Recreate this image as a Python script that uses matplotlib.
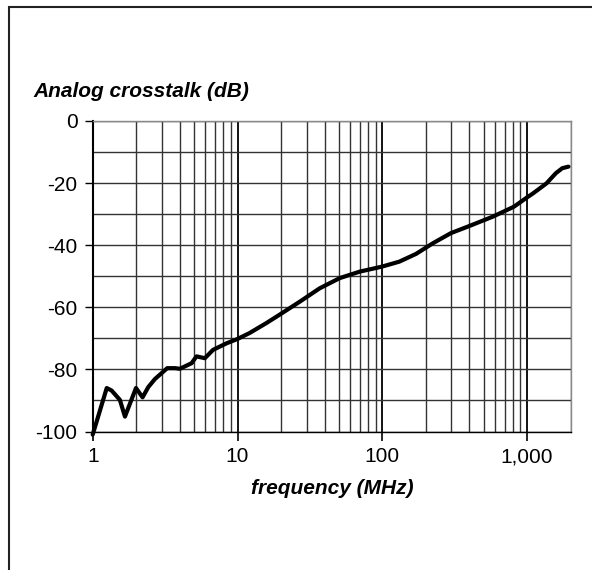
import matplotlib
matplotlib.use("Agg")
import matplotlib.pyplot as plt
from matplotlib.patches import Rectangle
from matplotlib.ticker import FixedLocator, NullFormatter, LogLocator

plt.rcParams['font.family'] = ['Liberation Sans', 'DejaVu Sans']

# Data
freq_mhz = [1, 1.25, 1.35, 1.54, 1.67, 1.99, 2.21, 2.42, 2.69, 2.91, 3.27, 3.7, 4.0,
            4.82, 5.21, 5.95, 6.78, 8.4, 10, 12.1, 15.8, 19.5, 26.9, 36.9, 50.8, 70,
            99.5, 131, 171, 223, 298, 400, 580, 811, 1000, 1100, 1360, 1580, 1750, 1930]
crosstalk_db = [-101, -86.0, -86.8, -89.8, -95.2, -86.0, -89.0, -85.7, -83.1, -81.7,
                -79.6, -79.6, -79.8, -78.0, -75.8, -76.4, -73.7, -71.6, -70.2, -68.3,
                -65.1, -62.4, -58.2, -53.9, -50.6, -48.5, -46.9, -45.3, -42.8, -39.4,
                -36.1, -33.8, -30.8, -27.6, -24.6, -23.3, -20.1, -16.8, -15.2, -14.7]

x_ticks = [1, 10, 100, 1000]
x_tick_labels = ["1", "10", "100", "1,000"]
y_ticks = [0, -20, -40, -60, -80, -100]
y_tick_labels = ["0", "-20", "-40", "-60", "-80", "-100"]

W, H = 592, 570
fig = plt.figure(figsize=(W / 100, H / 100), dpi=100)

# outer frame
fig.patches.append(Rectangle((9 / W, -0.05), 1.2, 1 - 6.5 / H + 0.05,
                             transform=fig.transFigure, fill=False,
                             edgecolor='#222222', linewidth=1.5, clip_on=False))

ax = fig.add_axes([92.7 / W, 1 - 431.5 / H, (570.7 - 92.7) / W, (431.5 - 121) / H])
ax.set_xscale('log')
ax.set_xlim(1, 2000)
ax.set_ylim(-100, 0)

ax.xaxis.set_major_locator(FixedLocator(x_ticks))
ax.set_xticklabels(x_tick_labels)
ax.xaxis.set_minor_locator(LogLocator(base=10, subs=range(2, 10), numticks=20))
ax.xaxis.set_minor_formatter(NullFormatter())
ax.set_yticks(y_ticks)
ax.set_yticklabels(y_tick_labels)
ax.set_yticks(list(range(-90, 0, 20)), minor=True)

ax.grid(True, which='major', axis='x', color='black', linewidth=1.3)
ax.grid(True, which='minor', axis='x', color='#333333', linewidth=1.0)
ax.grid(True, which='both', axis='y', color='#333333', linewidth=1.0)
ax.set_axisbelow(True)

ax.tick_params(axis='x', which='major', direction='out', length=6.5, width=1.2,
               labelsize=15, pad=5, colors='black')
ax.tick_params(axis='x', which='minor', length=0)
ax.tick_params(axis='y', which='major', direction='out', length=6, width=1.0,
               labelsize=15, pad=5)
ax.tick_params(axis='y', which='minor', length=0)

for side in ['top', 'right']:
    ax.spines[side].set_color('#888888')
    ax.spines[side].set_linewidth(1.0)
ax.spines['left'].set_linewidth(1.5)
ax.spines['bottom'].set_linewidth(1.0)

ax.plot(freq_mhz, crosstalk_db, color='black', linewidth=3.0, clip_on=False,
        solid_joinstyle='round', solid_capstyle='round', zorder=5)

fig.text(33 / W, 1 - 97 / H, "Analog crosstalk (dB)", fontsize=15,
         fontweight='bold', fontstyle='italic', ha='left', va='baseline')
fig.text(332 / W, 1 - 488 / H, "frequency (MHz)", fontsize=15,
         fontweight='bold', fontstyle='italic', ha='center', va='center')

fig.savefig("out.png", dpi=100, facecolor='white')
